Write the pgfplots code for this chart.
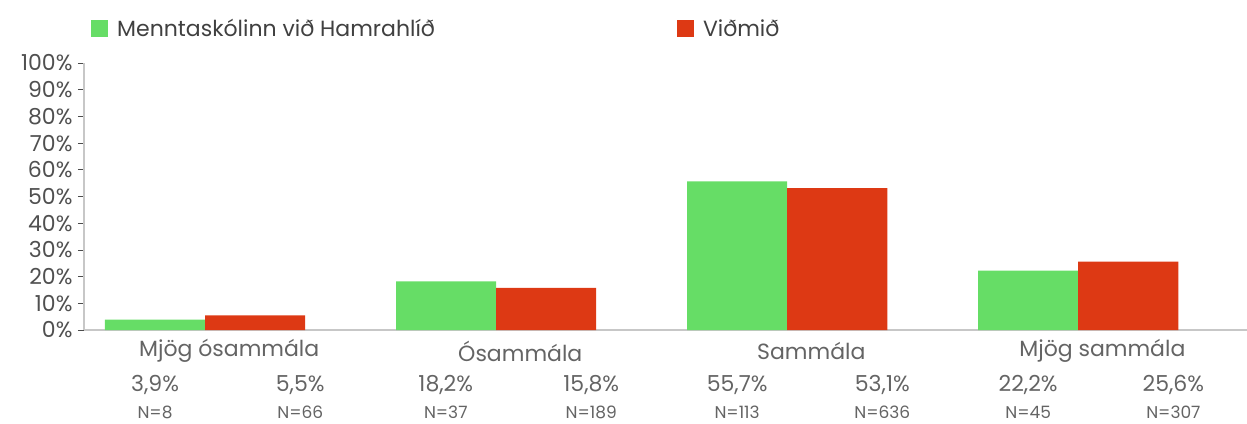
\documentclass[border=0pt]{standalone}
\usepackage{fontspec}
\setmainfont{Poppins}
\usepackage{pgfplots}
\pgfplotsset{compat=1.18}
\definecolor{cgreen}{RGB}{102,221,102}
\definecolor{cred}{RGB}{221,57,20}
\definecolor{ticktxt}{RGB}{80,80,80}
\definecolor{labtxt}{RGB}{100,100,100}
\definecolor{legtxt}{RGB}{64,64,64}
\begin{document}
\begin{tikzpicture}
\useasboundingbox (-84pt,-93pt) rectangle (1163pt,330pt);
\begin{axis}[
  scale only axis, width=1163pt, height=267pt,
  xmin=-0.416, xmax=3.58, ymin=0, ymax=100,
  axis lines=left,
  axis line style={-, draw=black!22, line width=1.5pt},
  ytick={0,10,...,100},
  yticklabel={\pgfmathprintnumber{\tick}\%},
  /pgf/number format/assume math mode=true,
  tick align=outside, major tick length=6pt,
  ytick style={draw=black!70, line width=0.6pt},
  yticklabel style={font=\fontsize{22}{22}\selectfont, text=ticktxt, xshift=-2pt},
  xtick={0.083,1.083,2.083,3.083},
  xticklabels={Mjög ósammála, Ósammála, Sammála, Mjög sammála},
  xtick style={draw=none},
  xticklabel style={font=\fontsize{22}{22}\selectfont, text=labtxt, anchor=center, yshift=-15pt},
  clip=false,
  legend columns=2,
  legend style={draw=none, fill=none, at={(0,1)}, anchor=west, xshift=7pt, yshift=34pt,
    inner sep=0pt, font=\fontsize{22}{26}\selectfont, text=legtxt,
    /tikz/every even column/.append style={column sep=240pt}},
  legend image code/.code={\fill[#1] (0pt,-8.5pt) rectangle (17pt,8.5pt); \path (24pt,0pt);},
]
\addplot[ybar, bar width=0.344, bar shift=-0.172, fill=cgreen, draw=none]
  coordinates {(0,3.9) (1,18.2) (2,55.7) (3,22.2)};
\addlegendentry{Menntaskólinn við Hamrahlíð}
\addplot[ybar, bar width=0.344, bar shift=0.172, fill=cred, draw=none]
  coordinates {(0,5.5) (1,15.8) (2,53.1) (3,25.6)};
\addlegendentry{Viðmið}
% percentage labels
\addplot[draw=none, mark=none, forget plot, nodes near coords, point meta=explicit symbolic,
  every node near coord/.style={anchor=center, yshift=-55pt, font=\fontsize{22}{22}\selectfont, text=labtxt}]
  coordinates {(-0.172,0) [3,9\%] (0.827,0) [18,2\%] (1.828,0) [55,7\%] (2.828,0) [22,2\%]
               (0.327,0) [5,5\%] (1.327,0) [15,8\%] (2.327,0) [53,1\%] (3.327,0) [25,6\%]};
% N labels
\addplot[draw=none, mark=none, forget plot, nodes near coords, point meta=explicit symbolic,
  every node near coord/.style={anchor=center, yshift=-82pt, font=\fontsize{17}{17}\selectfont, text=labtxt}]
  coordinates {(-0.172,0) [N=8] (0.827,0) [N=37] (1.828,0) [N=113] (2.828,0) [N=45]
               (0.327,0) [N=66] (1.327,0) [N=189] (2.327,0) [N=636] (3.327,0) [N=307]};
\end{axis}
\end{tikzpicture}
\end{document}
